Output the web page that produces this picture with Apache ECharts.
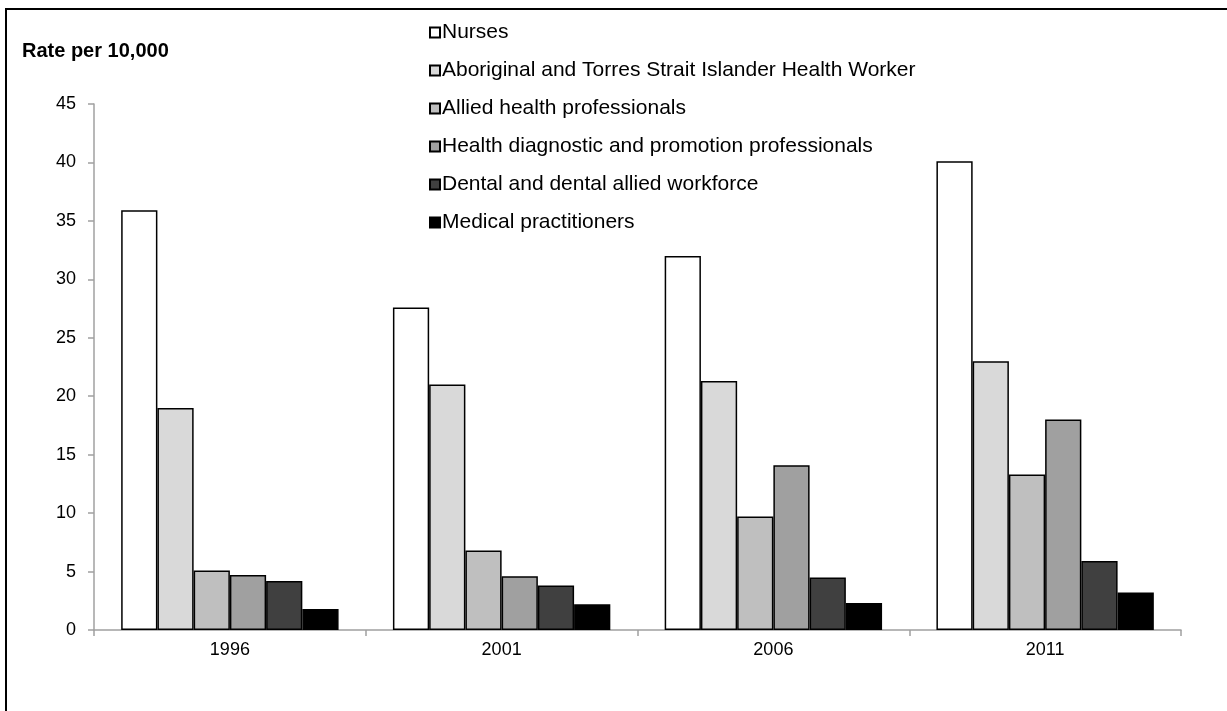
<!DOCTYPE html>
<html>
<head>
<meta charset="utf-8">
<script src="https://cdn.jsdelivr.net/npm/echarts@6/dist/echarts.min.js"></script>
<style>
  html, body { margin: 0; padding: 0; background: #fff; }
  #chart { width: 1227px; height: 711px; }
</style>
</head>
<body>
<div id="chart"></div>
<script>
// Census years on the category axis
const years = ['1996', '2001', '2006', '2011'];

// Rate per 10,000 population, by workforce group
const nurses = [35.9, 27.6, 32.0, 40.1];
const atsiHealthWorker = [19.0, 21.0, 21.3, 23.0];
const alliedHealth = [5.1, 6.8, 9.7, 13.3];
const healthDiagnostic = [4.7, 4.6, 14.1, 18.0];
const dental = [4.2, 3.8, 4.5, 5.9];
const medical = [1.8, 2.2, 2.3, 3.2];

const seriesNames = [
  'Nurses',
  'Aboriginal and Torres Strait Islander Health Worker',
  'Allied health professionals',
  'Health diagnostic and promotion professionals',
  'Dental and dental allied workforce',
  'Medical practitioners'
];
const seriesData = [nurses, atsiHealthWorker, alliedHealth, healthDiagnostic, dental, medical];
const fills = ['#ffffff', '#d9d9d9', '#bfbfbf', '#a0a0a0', '#404040', '#000000'];

const FONT = '"Liberation Sans", Arial, sans-serif';

const chart = echarts.init(document.getElementById('chart'), null, { renderer: 'canvas' });

chart.setOption({
  animation: false,
  backgroundColor: '#ffffff',
  textStyle: { fontFamily: FONT },
  grid: { left: 94, right: 46, top: 104, bottom: 81, containLabel: false },
  legend: {
    orient: 'vertical',
    left: 429,
    top: 22,
    itemWidth: 10,
    itemHeight: 10,
    itemGap: 17,
    padding: 0,
    icon: 'rect',
    textStyle: { fontFamily: FONT, fontSize: 21, color: '#000', lineHeight: 21, padding: [0, 0, 0, -3] },
    data: seriesNames
  },
  xAxis: {
    type: 'category',
    data: years,
    axisLine: { lineStyle: { color: '#a0a0a0', width: 1.5 } },
    axisTick: { show: true, length: 6, lineStyle: { color: '#a0a0a0', width: 1.5 } },
    axisLabel: { fontFamily: FONT, fontSize: 18, color: '#000', margin: 11 }
  },
  yAxis: {
    type: 'value',
    min: 0,
    max: 45,
    interval: 5,
    splitLine: { show: false },
    axisLine: { show: true, lineStyle: { color: '#a0a0a0', width: 1.5 } },
    axisTick: { show: true, length: 6, lineStyle: { color: '#a0a0a0', width: 1.5 } },
    axisLabel: { fontFamily: FONT, fontSize: 18, color: '#000', margin: 18 }
  },
  graphic: [
    {
      type: 'text',
      left: 22,
      top: 41,
      style: { text: 'Rate per 10,000', font: 'bold 20px "Liberation Sans", Arial, sans-serif', fill: '#000' }
    },
    {
      type: 'line',
      shape: { x1: 5, y1: 9, x2: 1227, y2: 9 },
      style: { stroke: '#000', lineWidth: 2 }
    },
    {
      type: 'line',
      shape: { x1: 6, y1: 8, x2: 6, y2: 711 },
      style: { stroke: '#000', lineWidth: 2 }
    }
  ],
  series: seriesNames.map((name, i) => ({
    name: name,
    type: 'bar',
    data: seriesData[i],
    barGap: '0%',
    barCategoryGap: '20%',
    itemStyle: { color: fills[i], borderColor: '#000', borderWidth: 1.5 }
  }))
});
</script>
</body>
</html>
